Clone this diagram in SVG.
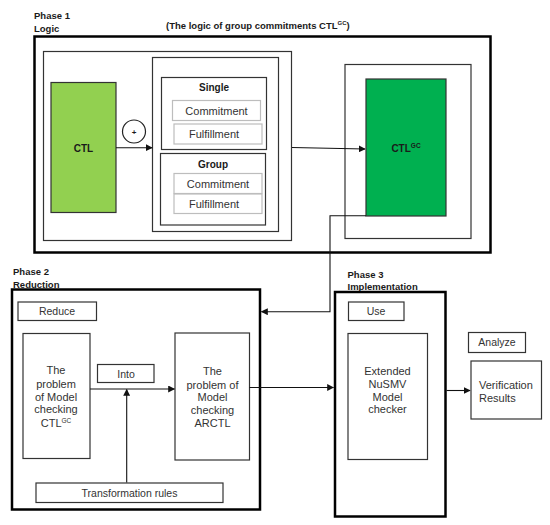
<svg xmlns="http://www.w3.org/2000/svg" width="550" height="525" viewBox="0 0 550 525">
<style>
text{font-family:"Liberation Sans",Arial,sans-serif;fill:#1a1a1a}
.h{font-weight:bold;font-size:9.5px}
.b{font-weight:bold;font-size:10px;text-anchor:middle}
.t{font-size:11px;text-anchor:middle;fill:#333}
.s{font-size:10.5px;text-anchor:middle;fill:#333}
.thick{fill:none;stroke:#000;stroke-width:2.5}
.box{fill:#fff;stroke:#333;stroke-width:1.2}
.lbox{fill:#fff;stroke:#bdbdbd;stroke-width:1.2}
.c{fill:none;stroke:#111;stroke-width:1.1}
</style>
<defs>
<marker id="ar" viewBox="0 0 10 10" refX="9" refY="5" markerWidth="7" markerHeight="7" markerUnits="userSpaceOnUse" orient="auto">
<path d="M0,0 L10,5 L0,10 z" fill="#111"/>
</marker>
</defs>
<rect width="550" height="525" fill="#fff"/>

<g id="phase1">
<text class="h" x="34" y="19">Phase 1</text>
<text class="h" x="34" y="31.5">Logic</text>
<text class="h" x="166" y="28.5">(The logic of group commitments CTL<tspan font-size="6" dy="-4">GC</tspan><tspan dy="4">)</tspan></text>
<rect class="thick" x="34.5" y="36.5" width="456" height="216"/>
<rect class="box" x="43.5" y="51.5" width="248" height="189" fill="none"/>
<rect class="box" x="345" y="64.5" width="126" height="174"/>
</g>

<g id="ctl">
<rect x="51" y="82.5" width="65" height="130" fill="#92D050" stroke="#333" stroke-width="1.2"/>
<text class="b" x="83.5" y="151.5">CTL</text>
</g>

<g id="plus">
<circle cx="134" cy="131.5" r="11.5" fill="#fff" stroke="#222" stroke-width="1.2"/>
<text class="b" x="134" y="134.5" style="font-size:8px">+</text>
</g>

<g id="components">
<rect class="box" x="152.5" y="57.5" width="126" height="174"/>
<g id="single">
<rect class="box" x="161.5" y="77.5" width="105" height="72"/>
<text class="b" x="214" y="91">Single</text>
<rect class="lbox" x="172.5" y="100.5" width="88" height="20"/>
<text class="t" x="216.5" y="114.5">Commitment</text>
<rect class="lbox" x="174" y="124" width="88" height="20"/>
<text class="t" x="214" y="138">Fulfillment</text>
</g>
<g id="group">
<rect class="box" x="160.5" y="153.5" width="105" height="71.5"/>
<text class="b" x="213" y="167.5">Group</text>
<rect class="lbox" x="174" y="173.5" width="88" height="20"/>
<text class="t" x="218" y="187.5">Commitment</text>
<rect class="lbox" x="174" y="194" width="88" height="19.5"/>
<text class="t" x="214" y="208">Fulfillment</text>
</g>
</g>

<g id="ctlgc">
<rect x="366" y="79" width="80" height="137" fill="#00B050" stroke="#333" stroke-width="1.2"/>
<text class="b" x="406" y="151.5">CTL<tspan font-size="6.5" dy="-4">GC</tspan></text>
</g>

<g id="phase2">
<text class="h" x="13" y="274.5">Phase 2</text>
<text class="h" x="13" y="287.5">Reduction</text>
<rect class="thick" x="12" y="289.5" width="248" height="220"/>
</g>
<g id="reduce">
<rect class="box" x="18" y="302" width="78.5" height="18.5"/>
<text class="s" x="57" y="315">Reduce</text>
</g>
<g id="problem-ctlgc">
<rect class="box" x="23" y="333.5" width="67" height="125"/>
<text class="t" x="56" y="374">The</text>
<text class="t" x="56" y="388">problem</text>
<text class="t" x="56" y="400.5">of Model</text>
<text class="t" x="56" y="413">checking</text>
<text class="t" x="56" y="426.5">CTL<tspan font-size="6.5" dy="-4">GC</tspan></text>
</g>
<g id="into">
<rect class="box" x="97.5" y="364.5" width="56.5" height="18"/>
<text class="s" x="126" y="377.5">Into</text>
</g>
<g id="problem-arctl">
<rect class="box" x="175" y="333" width="74.5" height="127"/>
<text class="t" x="212.5" y="375">The</text>
<text class="t" x="212.5" y="389">problem of</text>
<text class="t" x="212.5" y="401">Model</text>
<text class="t" x="212.5" y="414">checking</text>
<text class="t" x="212.5" y="427">ARCTL</text>
</g>
<g id="transformation">
<rect class="box" x="36" y="483" width="187" height="19.5"/>
<text class="s" x="129.5" y="496.5">Transformation rules</text>
</g>

<g id="phase3">
<text class="h" x="347.5" y="277.5">Phase 3</text>
<text class="h" x="347.5" y="290">Implementation</text>
<rect class="thick" x="335" y="292" width="110.5" height="224.5"/>
</g>
<g id="use">
<rect class="box" x="348.5" y="302" width="55.5" height="18.5"/>
<text class="s" x="376" y="315">Use</text>
</g>
<g id="nusmv">
<rect class="box" x="348" y="333.5" width="79.5" height="126"/>
<text class="t" x="387.5" y="375">Extended</text>
<text class="t" x="387.5" y="387.5">NuSMV</text>
<text class="t" x="387.5" y="400.5">Model</text>
<text class="t" x="387.5" y="413">checker</text>
</g>
<g id="analyze">
<rect class="box" x="468.5" y="332.5" width="57" height="20"/>
<text class="s" x="497" y="346">Analyze</text>
</g>
<g id="results">
<rect class="box" x="471" y="361" width="70.5" height="58"/>
<text class="t" x="479" y="389" style="text-anchor:start">Verification</text>
<text class="t" x="479" y="401.5" style="text-anchor:start">Results</text>
</g>

<g id="connectors">
<path class="c" d="M116,147.7 H152" marker-end="url(#ar)"/>
<path class="c" d="M292,147.5 L365,149" marker-end="url(#ar)"/>
<path class="c" d="M366,215.8 H330 V311.7 H261.5" marker-end="url(#ar)"/>
<path class="c" d="M90,389 H174.5" marker-end="url(#ar)"/>
<path class="c" d="M126.7,482.5 V389.5" marker-end="url(#ar)"/>
<path class="c" d="M249.5,387.5 H333.5" marker-end="url(#ar)"/>
<path class="c" d="M446.5,390.5 H470" marker-end="url(#ar)"/>
</g>
</svg>
